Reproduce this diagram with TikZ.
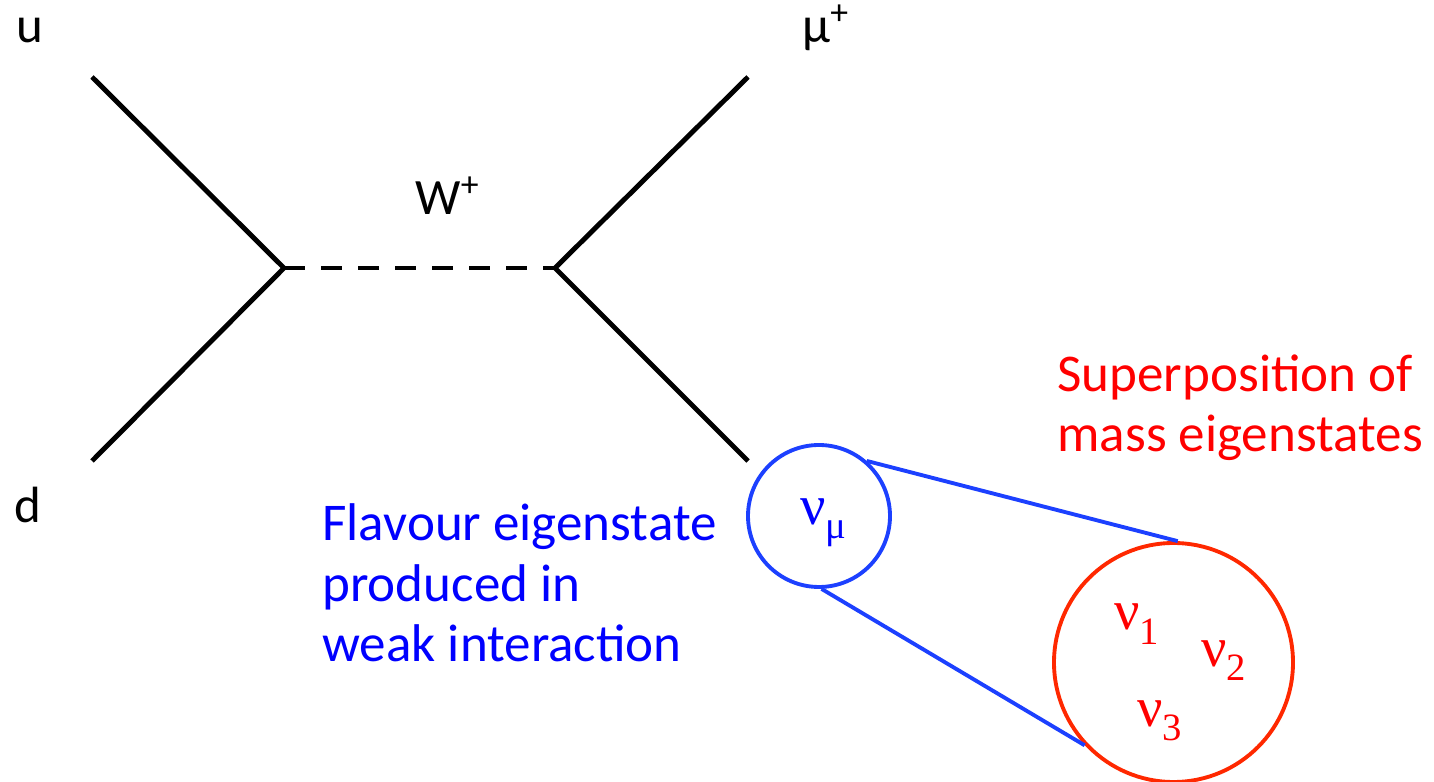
\documentclass[tikz,border=0pt]{standalone}
\usepackage{fontspec}
\setmainfont{Carlito}
\newfontfamily\nufont{Liberation Serif}
\definecolor{flavblue}{RGB}{0,0,255}
\definecolor{ringblue}{RGB}{28,64,255}
\definecolor{massred}{RGB}{255,0,0}
\definecolor{ringred}{RGB}{255,40,0}
\newcommand{\nustate}[1]{{\nufont ν\raisebox{-0.14cm}{\fontsize{11}{11}\selectfont #1}}}

\begin{document}
\begin{tikzpicture}[line width=1.4pt,
  lab/.style={inner sep=0pt, font=\fontsize{14.5}{17.3}\selectfont},
  note/.style={inner sep=0pt, align=left, anchor=base west, font=\fontsize{15.1}{17.3}\selectfont},
  nulab/.style={inner sep=0pt, anchor=base west, font=\fontsize{16}{17}\selectfont},
  ring/.style={circle, draw, line width=1.1pt, inner sep=0pt}]
\useasboundingbox (0,0) rectangle (14.34,7.82);
% vertices and external legs
\coordinate (v1) at (2.84,5.14);
\coordinate (v2) at (5.55,5.14);
\coordinate (u) at (0.92,7.05);
\coordinate (d) at (0.92,3.21);
\coordinate (mu) at (7.48,7.05);
\coordinate (nu) at (7.48,3.21);
\draw (u)--(v1)--(d);
\draw (mu)--(v2)--(nu);
\draw[dash pattern=on 0.21cm off 0.16cm] (v1)--(v2);
\node[lab, anchor=base] (ulab) at (0.30,7.39) {u};
\node[lab, anchor=base] (dlab) at (0.28,2.59) {d};
\node[lab, anchor=base west] (wlab) at (4.13,5.67) {W\textsuperscript{+}};
\node[lab, anchor=base west] (mulab) at (8.00,7.39) {μ\textsuperscript{+}};

% flavour and mass states
\node[ring, draw=ringblue, minimum size=1.42cm] (flav) at (8.19,2.66) {};
\node[ring, draw=ringred, minimum size=2.39cm] (mass) at (11.735,1.195) {};
\draw[ringblue, line width=1.1pt] (flav.49)--(mass.88);
\draw[ringblue, line width=1.1pt] (flav.272)--(mass.223.6);
\node[nulab, text=flavblue] (numu) at (7.98,2.57) {\nustate{μ}};
\node[nulab, text=massred] (nu1) at (11.12,1.52) {\nustate{1}};
\node[nulab, text=massred] (nu2) at (11.99,1.15) {\nustate{2}};
\node[nulab, text=massred] (nu3) at (11.35,0.55) {\nustate{3}};

% last line sits on the given baseline
\node[note, text=flavblue] (flavtext) at (3.20,1.20)
  {Flavour eigenstate\\produced in\\weak interaction};
\node[note, text=massred] (masstext) at (10.55,3.30)
  {Superposition of\\mass eigenstates};

\end{tikzpicture}
\end{document}
